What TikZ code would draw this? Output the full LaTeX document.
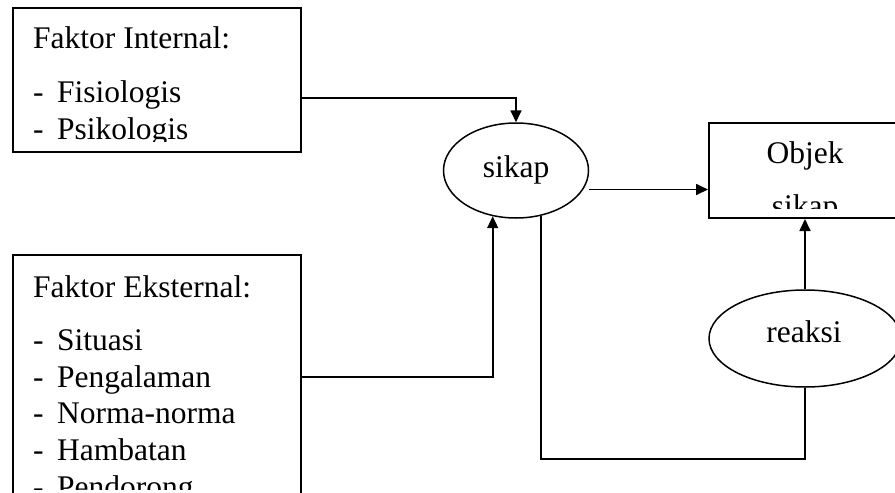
\documentclass[tikz,border=0pt]{standalone}
\usepackage{fontspec}
\setmainfont{Liberation Serif}
\usetikzlibrary{arrows.meta,shapes.geometric}
\begin{document}
\begin{tikzpicture}[x=1pt,y=-1pt,
  boxnode/.style={draw,line width=2pt,rectangle,inner sep=0pt},
  ellnode/.style={draw,line width=1.5pt,ellipse,inner sep=0pt},
  conn/.style={line width=1.7pt},
  arr/.style={conn,-{Triangle[length=12pt,width=11pt]}},
  txt/.style={anchor=base west,inner sep=0pt,font=\fontsize{31.5}{37}\selectfont},
  ctxt/.style={anchor=base,inner sep=0pt,font=\fontsize{31.5}{37}\selectfont}]
\clip (0,0) rectangle (895,493);
\fill[white] (0,0) rectangle (895,493);
% boxes and ellipses
\node[boxnode,minimum width=288pt,minimum height=144pt] (int) at (157,80) {};
\node[boxnode,minimum width=288pt,minimum height=260pt] (ext) at (157,385) {};
\node[ellnode,minimum width=145pt,minimum height=95pt] (sikap) at (516,170.5) {};
\node[boxnode,minimum width=192pt,minimum height=95pt] (obj) at (805,170.5) {};
\node[ellnode,minimum width=192pt,minimum height=97pt] (reaksi) at (805,338.5) {};
% texts
\begin{scope}
\clip (14,9) rectangle (300,141);
\node[txt] (t1) at (33,48) {Faktor Internal:};
\node[txt] (t2) at (33,102) {\makebox[24pt][l]{-}Fisiologis};
\node[txt] (t3) at (33,139) {\makebox[24pt][l]{-}Psikologis};
\end{scope}
\begin{scope}
\clip (14,256) rectangle (300,489);
\node[txt] (e1) at (33,297) {Faktor Eksternal:};
\node[txt] (e2) at (33,350) {\makebox[24pt][l]{-}Situasi};
\node[txt] (e3) at (33,387) {\makebox[24pt][l]{-}Pengalaman};
\node[txt] (e4) at (33,423.5) {\makebox[24pt][l]{-}Norma-norma};
\node[txt] (e5) at (33,460) {\makebox[24pt][l]{-}Hambatan};
\node[txt] (e6) at (33,497) {\makebox[24pt][l]{-}Pendorong};
\end{scope}
\node[ctxt] (sikapT) at (516,177) {sikap};
\node[ctxt] (reaksiT) at (804,342) {reaksi};
\begin{scope}
\clip (710,124) rectangle (894,208);
\node[ctxt] (o1) at (805,163) {Objek};
\node[ctxt] (o2) at (805,216) {sikap};
\end{scope}
% connectors
\draw[arr] ([yshift=-18pt]int.east) -| (sikap.north);
\draw[arr] ([yshift=8pt]ext.east) -| (sikap.243);
\draw[arr] ([yshift=-19pt]sikap.east) -- ([yshift=-19pt]sikap.east -| obj.west);
\coordinate (low) at (541,459);
\draw[conn] (sikap.299) |- (low -| reaksi.south) -- (reaksi.south);
\draw[arr] (reaksi.north) -- (obj.south);
\end{tikzpicture}
\end{document}
